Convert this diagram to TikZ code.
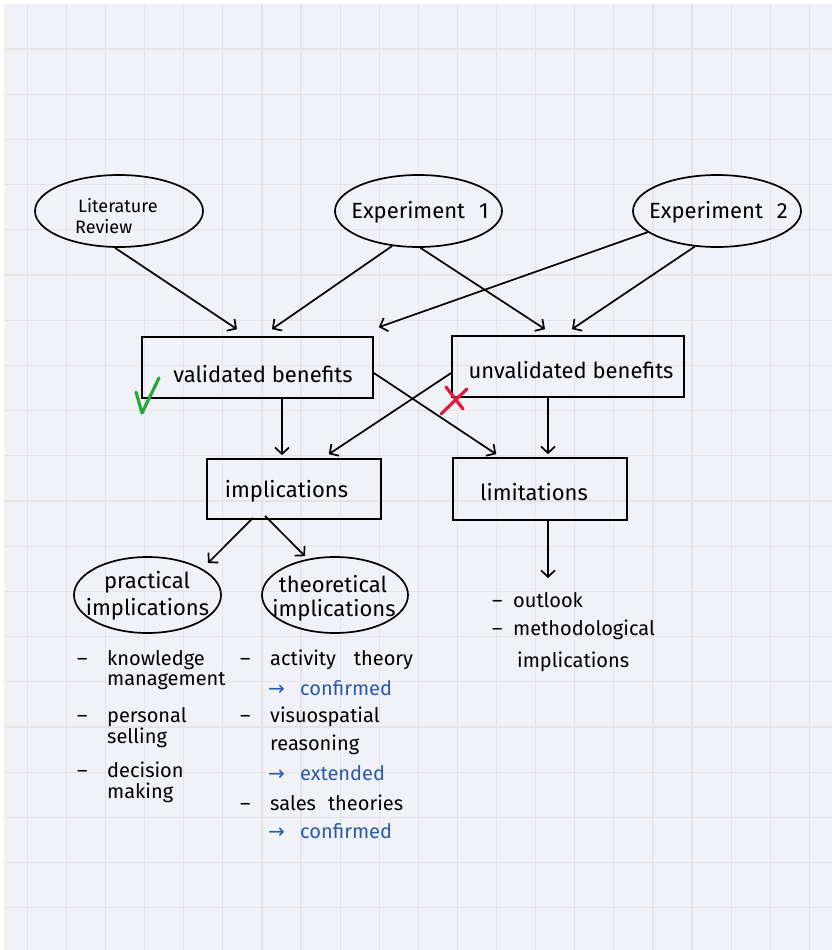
\documentclass[tikz,border=0pt]{standalone}
\usepackage{fontspec}
\setmainfont{Fira Sans}
\newfontfamily\symf{DejaVu Sans}
\usetikzlibrary{shapes.geometric,arrows.meta}
\definecolor{paper}{RGB}{240,242,247}
\definecolor{gridc}{RGB}{228,228,231}
\definecolor{okgreen}{RGB}{38,168,58}
\definecolor{nored}{RGB}{222,28,58}
\definecolor{noteblue}{RGB}{42,90,170}
\begin{document}
\begin{tikzpicture}[x=1pt,y=-1pt,
  ink/.style={line width=1.7pt, draw=black},
  arr/.style={ink, -{Straight Barb[length=6.5pt,width=14pt]}},
  oval/.style={ink, ellipse, inner sep=0pt},
  boxn/.style={ink, rectangle, inner sep=0pt},
  big/.style={inner sep=0pt, anchor=base, font=\fontsize{22}{24}\selectfont},
  item/.style={inner sep=0pt, anchor=base west, font=\fontsize{20}{22}\selectfont},
  note/.style={item, text=noteblue}
]
\useasboundingbox (0,0) rectangle (832,950);
% squared paper
\fill[white] (0,0) rectangle (832,950);
\fill[paper] (4,4) rectangle (832,950);
\foreach \i in {0,...,20}
  \draw[gridc, line width=1.2pt] ({27.3+39.1*\i},4) -- ({27.3+39.1*\i},950);
\foreach \j in {0,...,19}
  \draw[gridc, line width=1.2pt] (4,{49+45.2*\j}) -- (832,{49+45.2*\j});

% sources
\node[oval, minimum width=168pt, minimum height=72pt] (lit) at (119,211) {};
\node[inner sep=0pt, anchor=base west, font=\fontsize{18}{20}\selectfont] (litA) at (78,212) {Literature};
\node[inner sep=0pt, anchor=base west, font=\fontsize{18}{20}\selectfont] (litB) at (75,233) {Review};

\node[oval, minimum width=167pt, minimum height=72pt] (exp1) at (418.5,211) {};
\node[big] (exp1T) at (420,218) {Experiment\hspace{14pt}1};

\node[oval, minimum width=168pt, minimum height=72pt] (exp2) at (717,211) {};
\node[big] (exp2T) at (718.5,218) {Experiment\hspace{14pt}2};

% benefits
\node[boxn, minimum width=231pt, minimum height=61pt] (vb) at (257.5,367.5) {};
\node[big] (vbT) at (263,382) {validated benefits};

\node[boxn, minimum width=232pt, minimum height=61pt] (ub) at (568,366.5) {};
\node[big] (ubT) at (571,378) {unvalidated benefits};

% outcomes
\node[boxn, minimum width=174pt, minimum height=60pt] (impl) at (294,489) {};
\node[big] (implT) at (286.5,497) {implications};

\node[boxn, minimum width=174pt, minimum height=62pt] (lim) at (540,489) {};
\node[big] (limT) at (534,500) {limitations};

\node[oval, minimum width=147pt, minimum height=76pt] (prac) at (147.5,595) {};
\node[big] (pracA) at (147,588) {practical};
\node[big] (pracB) at (147.5,615) {implications};

\node[oval, minimum width=146pt, minimum height=76pt] (theo) at (335,595) {};
\node[big] (theoA) at (333,592) {theoretical};
\node[big] (theoB) at (334,616) {implications};

% ticks
\draw[okgreen, line width=3.2pt, line cap=round, line join=round]
  (136,392) -- (142,413) -- (159,378);
\draw[nored, line width=3.2pt, line cap=round]
  (446,387) -- (463,409) (467,389) -- (441,414);

% connectors
\draw[arr] ([xshift=-4pt]lit.south) -- ([xshift=-20.5pt,yshift=7pt]vb.north);
\draw[arr] (exp1.233) -- ([xshift=14.5pt,yshift=7pt]vb.north);
\draw[arr] (exp2.197) -- ([xshift=5pt,yshift=9pt]vb.north east);
\draw[arr] (exp1.-87) -- ([xshift=-23pt,yshift=6pt]ub.north);
\draw[arr] (exp2.238) -- ([xshift=4pt,yshift=6pt]ub.north);

\draw[arr] ([xshift=24.5pt]vb.south) -- ([xshift=-12pt,yshift=3pt]impl.north);
\draw[arr] ([xshift=-20pt]ub.south) -- ([xshift=8pt,yshift=3pt]lim.north);
\draw[arr] ([yshift=-5.5pt]vb.east) -- ([xshift=44pt,yshift=3pt]lim.north west);
\draw[arr] ([yshift=-6.5pt]ub.west) -- ([xshift=-53pt,yshift=4pt]impl.north east);

\draw[arr] ([xshift=-41pt,yshift=2pt]impl.south) -- ([xshift=60.5pt,yshift=32pt]prac.center);
\draw[arr] ([xshift=-29pt,yshift=4pt]impl.south) -- ([xshift=-30pt]theo.north);

\coordinate (limEnd) at (548,578);
\draw[arr] ([xshift=8pt]lim.south) -- (limEnd);

% practical implications
\node[item] (p1) at (77,665) {\makebox[30pt][l]{–}knowledge};
\node[item] (p1b) at (107,685) {management};
\node[item] (p2) at (77,722) {\makebox[30pt][l]{–}personal};
\node[item] (p2b) at (107,743) {selling};
\node[item] (p3) at (77,777) {\makebox[30pt][l]{–}decision};
\node[item] (p3b) at (107,798) {making};

% theoretical implications
\node[item] (t1) at (240,665) {\makebox[30pt][l]{–}activity\hspace{18pt}theory};
\node[note] (t1n) at (268,695) {\makebox[32pt][l]{\symf →}confirmed};
\node[item] (t2) at (240,722) {\makebox[30pt][l]{–}visuospatial};
\node[item] (t2b) at (270,750) {reasoning};
\node[note] (t2n) at (268,780) {\makebox[32pt][l]{\symf →}extended};
\node[item] (t3) at (240,810) {\makebox[30pt][l]{–}sales\hspace{12pt}theories};
\node[note] (t3n) at (268,838) {\makebox[32pt][l]{\symf →}confirmed};

% limitations
\node[item] (l1) at (492,607) {\makebox[21pt][l]{–}outlook};
\node[item] (l2) at (492,635) {\makebox[21pt][l]{–}methodological};
\node[item] (l2b) at (517,667) {implications};
\end{tikzpicture}
\end{document}
